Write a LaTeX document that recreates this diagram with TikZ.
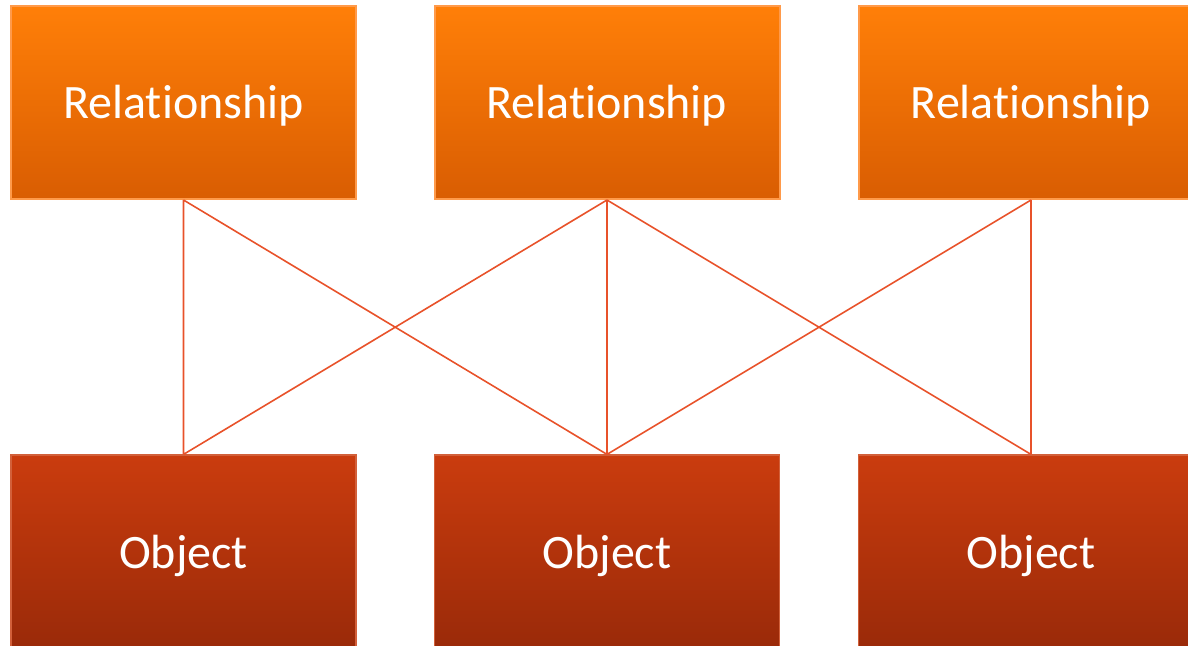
\documentclass[tikz,border=0pt]{standalone}
\usepackage{fontspec}
\setmainfont{Carlito}[Ligatures={NoCommon,NoContextual}]
\definecolor{reltop}{HTML}{FF7F08}
\definecolor{relbot}{HTML}{D95D02}
\definecolor{relline}{HTML}{FF9A4A}
\definecolor{objtop}{HTML}{CA3C0E}
\definecolor{objbot}{HTML}{9A2A09}
\definecolor{objline}{HTML}{D2603A}
\definecolor{link}{HTML}{E8522A}
\tikzset{
  relbox/.style={draw=relline,line width=1pt,top color=reltop,bottom color=relbot,
    minimum width=172.5pt,minimum height=96.5pt,text height=16.5pt,text depth=0pt,
    text=white,font=\fontsize{24}{28}\selectfont},
  objbox/.style={draw=objline,line width=0.6pt,top color=objtop,bottom color=objbot,
    minimum width=172.5pt,minimum height=96.5pt,text height=16.5pt,text depth=0pt,
    text=white,font=\fontsize{24}{28}\selectfont},
  link/.style={draw=link,line width=0.8pt}
}
\begin{document}
\begin{tikzpicture}[x=0.5pt,y=-0.5pt]
    \useasboundingbox (0,0) rectangle (1188,646);
    \clip (0,0) rectangle (1188,646);
    \foreach \n/\x in {1/183.5,2/607,3/1031}{
      \node[relbox] (R\n) at (\x,102.5) {Relationship};
      \node[objbox] (O\n) at (\x,551.5) {Object};
    }
    \draw[link] (R1.south) -- (O1.north)
                (R1.south) -- (O2.north)
                (R2.south) -- (O1.north)
                (R2.south) -- (O2.north)
                (R2.south) -- (O3.north)
                (R3.south) -- (O2.north)
                (R3.south) -- (O3.north);
\end{tikzpicture}
\end{document}
